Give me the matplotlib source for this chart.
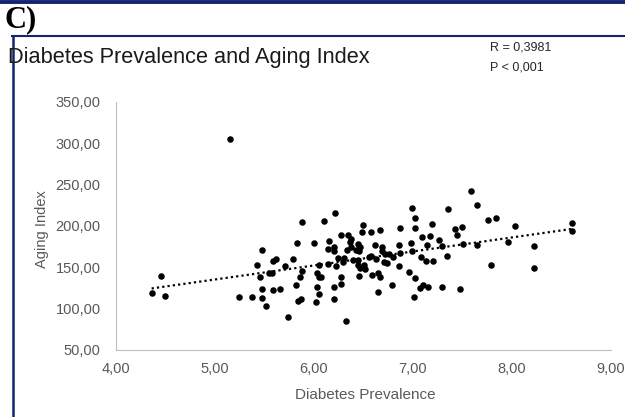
import numpy as np
import matplotlib
matplotlib.use("Agg")
import matplotlib.pyplot as plt
from matplotlib.lines import Line2D
from matplotlib.ticker import FuncFormatter

# values
diabetes = [
    4.36, 4.45, 4.49, 5.15, 5.24, 5.37, 5.47, 5.47, 5.52, 5.45,
    5.42, 5.47, 5.55, 5.58, 5.59, 5.62, 5.59, 5.66, 5.71, 5.74,
    5.79, 5.83, 5.82, 5.86, 5.88, 5.84, 5.87, 5.88, 6.00, 6.02,
    6.03, 6.05, 6.07, 6.03, 6.05, 6.10, 6.14, 6.15, 6.05, 6.14,
    6.22, 6.20, 6.20, 6.21, 6.24, 6.30, 6.29, 6.27, 6.27, 6.20,
    6.20, 6.32, 6.27, 6.34, 6.37, 6.36, 6.33, 6.37, 6.44, 6.46,
    6.45, 6.42, 6.49, 6.48, 6.58, 6.67, 6.62, 6.69, 6.69, 6.86,
    6.87, 6.87, 6.39, 6.44, 6.44, 6.46, 6.50, 6.52, 6.56, 6.58,
    6.63, 6.72, 6.76, 6.80, 6.71, 6.74, 6.86, 6.45, 6.59, 6.65,
    6.67, 6.79, 6.65, 6.99, 6.98, 6.99, 7.02, 7.02, 7.19, 7.09,
    7.17, 7.26, 7.14, 7.29, 7.35, 7.42, 7.44, 7.49, 7.50, 7.59,
    7.65, 7.65, 7.76, 7.84, 8.03, 7.96, 8.22, 7.79, 8.22, 8.61,
    8.61, 7.34, 7.08, 7.13, 7.20, 6.96, 7.02, 7.10, 7.07, 7.15,
    7.29, 7.47, 7.01,
]
aging = [
    119.2, 139.8, 115.5, 305.7, 114.3, 114.3, 112.5, 123.7, 103.0, 137.7,
    152.8, 170.8, 143.1, 143.1, 158.0, 159.8, 122.2, 123.7, 151.1, 90.0,
    159.8, 179.9, 128.5, 138.6, 145.3, 109.1, 111.5, 204.5, 179.9, 107.6,
    143.1, 137.7, 137.7, 125.6, 117.5, 206.5, 172.6, 181.7, 153.2, 154.4,
    151.1, 174.2, 169.5, 215.7, 161.3, 161.3, 156.0, 138.6, 130.1, 125.6,
    111.3, 85.2, 188.8, 188.8, 184.3, 180.2, 171.0, 174.5, 178.3, 174.5,
    170.1, 171.4, 201.3, 192.6, 193.2, 194.8, 177.1, 174.6, 169.3, 177.1,
    167.1, 198.0, 158.9, 159.2, 152.5, 148.7, 152.8, 148.0, 162.9, 164.0,
    160.0, 166.1, 166.1, 162.0, 155.9, 154.7, 151.3, 139.8, 140.7, 142.8,
    138.6, 128.5, 120.6, 170.1, 179.0, 222.3, 209.4, 198.0, 202.5, 187.1,
    188.3, 183.5, 177.0, 176.2, 220.4, 196.8, 189.6, 198.4, 178.3, 242.6,
    225.4, 177.4, 207.8, 209.4, 199.6, 180.2, 175.4, 152.8, 149.5, 203.3,
    194.4, 164.1, 162.0, 158.0, 157.5, 144.7, 136.8, 128.5, 125.1, 125.6,
    126.8, 123.7, 113.7,
]
x_ticks = [4, 5, 6, 7, 8, 9]
y_ticks = [50, 100, 150, 200, 250, 300, 350]
title = "Diabetes Prevalence and Aging Index"
stats_text = ["R = 0,3981", "P < 0,001"]

plt.rcParams['font.family'] = ['Liberation Sans', 'DejaVu Sans']
navy = "#14246e"
grey_txt = "#595959"

fig = plt.figure(figsize=(6.25, 4.17), dpi=100)
ax = fig.add_axes([0.1856, 0.1607, 0.7920, 0.5947])

x = np.array(diabetes)
y = np.array(aging)
ax.scatter(x, y, s=22, color="black", linewidths=0, zorder=3)

# linear trendline like excel
k, b = np.polyfit(x, y, 1)
xs = np.array([x.min(), x.max()])
ax.plot(xs, k * xs + b, color="black", lw=1.6, linestyle=(0, (1, 1.4)), zorder=2)

ax.set_xlim(4, 9)
ax.set_ylim(50, 350)
ax.set_xticks(x_ticks)
ax.set_yticks(y_ticks)
fmt = FuncFormatter(lambda v, p: f"{v:.2f}".replace(".", ","))
ax.xaxis.set_major_formatter(fmt)
ax.yaxis.set_major_formatter(fmt)
ax.tick_params(axis="both", length=0, labelsize=10.5, colors=grey_txt)
ax.tick_params(axis="y", pad=11)
ax.tick_params(axis="x", pad=9)

for s in ["top", "right"]:
    ax.spines[s].set_visible(False)
for s in ["left", "bottom"]:
    ax.spines[s].set_color("#bfbfbf")
    ax.spines[s].set_linewidth(0.8)

fig.text(365 / 625, 1 - 395 / 417, "Diabetes Prevalence", ha="center", va="center",
         fontsize=11, color=grey_txt)
fig.text(42 / 625, 1 - 229 / 417, "Aging Index", ha="center", va="center",
         rotation=90, fontsize=10.5, color=grey_txt)

# title + stats
fig.text(8 / 625, 1 - 58 / 417, title, ha="left", va="center", fontsize=15.7, color="#1a1a1a")
fig.text(490 / 625, 1 - 48 / 417, stats_text[0], ha="left", va="center", fontsize=9, color="#262626")
fig.text(490 / 625, 1 - 67 / 417, stats_text[1], ha="left", va="center", fontsize=9, color="#262626")

# panel letter
fig.text(5 / 625, 1 - 20 / 417, "C)", ha="left", va="center", fontsize=22,
         fontweight="bold", family="Liberation Serif", color="black")

# navy frame lines
fig.add_artist(Line2D([0, 1], [1 - 1.5 / 417, 1 - 1.5 / 417], color=navy, lw=2.8))
fig.add_artist(Line2D([12 / 625, 1], [1 - 36 / 417, 1 - 36 / 417], color=navy, lw=1.5))
fig.add_artist(Line2D([13 / 625, 13 / 625], [0, 1 - 36 / 417], color=navy, lw=1.8))

fig.savefig("out.png", dpi=100)
